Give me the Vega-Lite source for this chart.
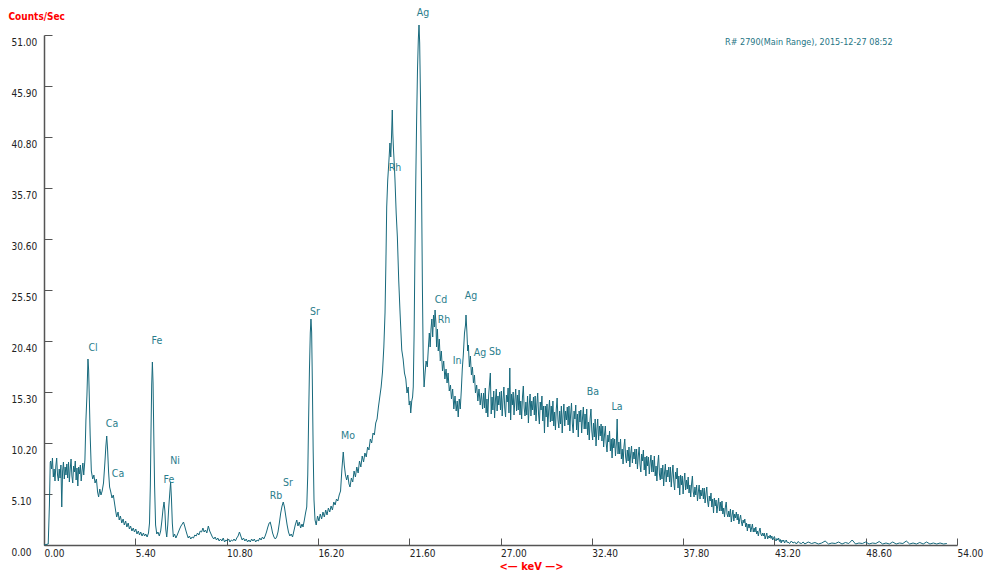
{
"$schema": "https://vega.github.io/schema/vega-lite/v6.json",
"width": 913, "height": 510,
"autosize": {"type": "none"},
"padding": {"left": 44, "top": 35, "right": 27, "bottom": 29},
"background": "white",
"config": {"view": {"stroke": null}, "font": "Liberation Sans Narrow, DejaVu Sans Condensed, Liberation Sans, Arial, sans-serif"},
"datasets": {
"spectrum": [
{"keV":0,"cps":0},{"keV":0.25,"cps":0.1},{"keV":0.32,"cps":4.0},{"keV":0.37,"cps":8.3},
{"keV":0.40,"cps":8.4},{"keV":0.45,"cps":7.6},{"keV":0.50,"cps":8.7},{"keV":0.55,"cps":6.8},{"keV":0.60,"cps":7.6},{"keV":0.65,"cps":6.4},{"keV":0.70,"cps":7.9},{"keV":0.75,"cps":8.7},{"keV":0.80,"cps":7.0},{"keV":0.85,"cps":6.4},{"keV":0.90,"cps":7.6},{"keV":0.95,"cps":6.7},{"keV":1.00,"cps":8.0},{"keV":1.05,"cps":3.8},{"keV":1.10,"cps":7.4},{"keV":1.15,"cps":8.3},{"keV":1.20,"cps":6.6},{"keV":1.25,"cps":7.8},{"keV":1.30,"cps":7.0},{"keV":1.35,"cps":8.1},{"keV":1.40,"cps":6.7},{"keV":1.45,"cps":8.3},{"keV":1.50,"cps":6.3},{"keV":1.55,"cps":7.6},{"keV":1.60,"cps":8.6},{"keV":1.65,"cps":6.9},{"keV":1.70,"cps":6.2},{"keV":1.75,"cps":7.9},{"keV":1.80,"cps":7.3},{"keV":1.85,"cps":8.4},{"keV":1.90,"cps":6.5},{"keV":1.95,"cps":7.7},{"keV":2.00,"cps":5.9},{"keV":2.05,"cps":7.8},{"keV":2.10,"cps":7.1},{"keV":2.15,"cps":8.0},{"keV":2.20,"cps":6.4},{"keV":2.25,"cps":7.4},{"keV":2.30,"cps":8.2},{"keV":2.35,"cps":7.0},{"keV":2.42,"cps":8.5},
{"keV":2.48,"cps":12.5},{"keV":2.54,"cps":15.0},{"keV":2.6,"cps":18.6},{"keV":2.64,"cps":17.5},{"keV":2.68,"cps":14.8},{"keV":2.73,"cps":11.0},{"keV":2.8,"cps":7.4},{"keV":2.88,"cps":6.6},{"keV":2.95,"cps":7.0},{"keV":3.02,"cps":6.2},{"keV":3.1,"cps":6.6},{"keV":3.17,"cps":5.3},{"keV":3.23,"cps":4.8},{"keV":3.3,"cps":5.6},{"keV":3.37,"cps":5.0},{"keV":3.44,"cps":5.4},{"keV":3.52,"cps":6.2},{"keV":3.6,"cps":8.2},{"keV":3.66,"cps":9.9},{"keV":3.71,"cps":10.9},{"keV":3.76,"cps":9.6},{"keV":3.82,"cps":7.3},{"keV":3.88,"cps":5.8},{"keV":3.95,"cps":5.3},{"keV":4.02,"cps":4.7},{"keV":4.1,"cps":5.0},{"keV":4.17,"cps":4.2},{"keV":4.24,"cps":3.4},{"keV":4.3,"cps":2.8},{"keV":4.38,"cps":3.3},{"keV":4.45,"cps":2.5},{"keV":4.52,"cps":2.9},{"keV":4.6,"cps":2.2},{"keV":4.68,"cps":2.6},{"keV":4.75,"cps":2.0},{"keV":4.83,"cps":2.4},{"keV":4.9,"cps":1.8},{"keV":4.98,"cps":2.2},{"keV":5.05,"cps":1.6},{"keV":5.12,"cps":1.9},{"keV":5.2,"cps":1.4},{"keV":5.28,"cps":1.7},{"keV":5.35,"cps":1.3},{"keV":5.43,"cps":1.6},{"keV":5.5,"cps":1.1},{"keV":5.58,"cps":1.4},{"keV":5.65,"cps":1.0},{"keV":5.72,"cps":1.3},{"keV":5.8,"cps":0.9},{"keV":5.88,"cps":1.2},{"keV":5.95,"cps":0.9},{"keV":6.02,"cps":1.1},{"keV":6.1,"cps":0.8},{"keV":6.18,"cps":1.2},{"keV":6.24,"cps":2.2},{"keV":6.29,"cps":6.0},{"keV":6.33,"cps":11.5},{"keV":6.37,"cps":16.0},{"keV":6.41,"cps":18.3},{"keV":6.45,"cps":16.2},{"keV":6.49,"cps":11.5},{"keV":6.54,"cps":6.0},{"keV":6.6,"cps":2.0},{"keV":6.67,"cps":1.1},{"keV":6.74,"cps":1.3},{"keV":6.82,"cps":0.9},{"keV":6.9,"cps":1.4},{"keV":6.97,"cps":2.4},{"keV":7.04,"cps":3.6},{"keV":7.1,"cps":4.3},{"keV":7.15,"cps":3.4},{"keV":7.2,"cps":1.6},{"keV":7.26,"cps":0.8},{"keV":7.32,"cps":2.0},{"keV":7.38,"cps":3.8},{"keV":7.44,"cps":5.2},{"keV":7.49,"cps":6.3},{"keV":7.54,"cps":4.6},{"keV":7.59,"cps":2.2},{"keV":7.65,"cps":0.8},{"keV":7.72,"cps":1.1},{"keV":7.8,"cps":0.7},{"keV":7.88,"cps":1.0},{"keV":7.95,"cps":1.3},{"keV":8.02,"cps":1.6},{"keV":8.1,"cps":1.9},{"keV":8.18,"cps":2.1},{"keV":8.25,"cps":2.3},{"keV":8.32,"cps":1.9},{"keV":8.4,"cps":1.4},{"keV":8.47,"cps":1.0},{"keV":8.53,"cps":0.7},{"keV":8.6,"cps":0.9},{"keV":8.68,"cps":0.6},{"keV":8.76,"cps":0.8},{"keV":8.84,"cps":0.7},{"keV":8.92,"cps":1.0},{"keV":9.0,"cps":0.9},{"keV":9.08,"cps":1.2},{"keV":9.16,"cps":1.0},{"keV":9.24,"cps":1.4},{"keV":9.32,"cps":1.3},{"keV":9.4,"cps":1.7},{"keV":9.47,"cps":1.3},{"keV":9.55,"cps":1.5},{"keV":9.63,"cps":1.2},{"keV":9.72,"cps":1.9},{"keV":9.8,"cps":1.4},{"keV":9.88,"cps":1.1},{"keV":9.96,"cps":0.8},{"keV":10.04,"cps":0.6},{"keV":10.12,"cps":0.8},{"keV":10.2,"cps":0.5},{"keV":10.28,"cps":0.7},{"keV":10.36,"cps":0.4},{"keV":10.44,"cps":0.6},{"keV":10.52,"cps":0.4},{"keV":10.6,"cps":0.7},{"keV":10.68,"cps":0.3},{"keV":10.76,"cps":0.5},{"keV":10.84,"cps":0.4},{"keV":10.92,"cps":0.6},{"keV":11.0,"cps":0.3},{"keV":11.08,"cps":0.5},{"keV":11.16,"cps":0.4},{"keV":11.24,"cps":0.6},{"keV":11.32,"cps":0.4},{"keV":11.4,"cps":0.7},{"keV":11.48,"cps":0.9},{"keV":11.56,"cps":1.3},{"keV":11.64,"cps":0.9},{"keV":11.72,"cps":0.5},{"keV":11.8,"cps":0.7},{"keV":11.88,"cps":0.4},{"keV":11.96,"cps":0.6},{"keV":12.04,"cps":0.3},{"keV":12.12,"cps":0.5},{"keV":12.2,"cps":0.3},{"keV":12.28,"cps":0.6},{"keV":12.36,"cps":0.4},{"keV":12.44,"cps":0.6},{"keV":12.52,"cps":0.3},{"keV":12.6,"cps":0.5},{"keV":12.68,"cps":0.4},{"keV":12.76,"cps":0.7},{"keV":12.84,"cps":0.5},{"keV":12.92,"cps":0.8},{"keV":13.0,"cps":0.6},{"keV":13.08,"cps":0.9},{"keV":13.16,"cps":1.3},{"keV":13.24,"cps":1.8},{"keV":13.32,"cps":2.2},{"keV":13.38,"cps":2.3},{"keV":13.45,"cps":1.8},{"keV":13.52,"cps":1.2},{"keV":13.6,"cps":0.8},{"keV":13.68,"cps":0.6},{"keV":13.76,"cps":0.8},{"keV":13.84,"cps":1.3},{"keV":13.92,"cps":2.2},{"keV":14.0,"cps":3.2},{"keV":14.08,"cps":3.9},{"keV":14.15,"cps":4.3},{"keV":14.22,"cps":3.8},{"keV":14.3,"cps":2.9},{"keV":14.38,"cps":2.0},{"keV":14.46,"cps":1.3},{"keV":14.54,"cps":0.9},{"keV":14.62,"cps":1.1},{"keV":14.7,"cps":0.8},{"keV":14.78,"cps":1.4},{"keV":14.86,"cps":2.0},{"keV":14.95,"cps":2.5},{"keV":15.02,"cps":1.9},{"keV":15.1,"cps":2.3},{"keV":15.18,"cps":1.7},{"keV":15.26,"cps":2.1},{"keV":15.32,"cps":1.8},{"keV":15.4,"cps":2.5},{"keV":15.47,"cps":3.2},{"keV":15.54,"cps":3.8},{"keV":15.6,"cps":7.0},{"keV":15.65,"cps":12.5},{"keV":15.7,"cps":17.5},{"keV":15.75,"cps":21.2},{"keV":15.79,"cps":22.6},{"keV":15.83,"cps":21.3},{"keV":15.87,"cps":16.5},{"keV":15.92,"cps":9.5},{"keV":15.97,"cps":4.5},{"keV":16.03,"cps":2.5},{"keV":16.1,"cps":2.0},{"keV":16.18,"cps":2.9},{"keV":16.26,"cps":2.4},{"keV":16.34,"cps":3.1},{"keV":16.42,"cps":2.6},{"keV":16.5,"cps":3.3},{"keV":16.58,"cps":2.8},{"keV":16.66,"cps":3.5},{"keV":16.74,"cps":3.0},{"keV":16.82,"cps":3.7},{"keV":16.9,"cps":3.3},{"keV":16.98,"cps":3.9},{"keV":17.06,"cps":3.5},{"keV":17.14,"cps":4.3},{"keV":17.22,"cps":4.0},{"keV":17.3,"cps":4.6},{"keV":17.38,"cps":4.4},{"keV":17.46,"cps":5.0},{"keV":17.54,"cps":5.4},{"keV":17.62,"cps":7.6},{"keV":17.7,"cps":9.3},{"keV":17.76,"cps":8.0},{"keV":17.83,"cps":7.0},{"keV":17.9,"cps":6.5},{"keV":17.97,"cps":7.0},{"keV":18.04,"cps":6.1},{"keV":18.1,"cps":5.8},{"keV":18.18,"cps":6.7},{"keV":18.26,"cps":6.3},{"keV":18.34,"cps":7.4},{"keV":18.42,"cps":6.8},{"keV":18.5,"cps":7.8},{"keV":18.58,"cps":7.2},{"keV":18.66,"cps":8.4},{"keV":18.74,"cps":7.8},{"keV":18.82,"cps":8.9},{"keV":18.9,"cps":8.3},{"keV":18.98,"cps":9.2},{"keV":19.06,"cps":8.8},{"keV":19.14,"cps":9.8},{"keV":19.22,"cps":9.5},{"keV":19.3,"cps":10.6},{"keV":19.38,"cps":10.2},{"keV":19.46,"cps":11.2},{"keV":19.54,"cps":11.0},{"keV":19.62,"cps":12.2},{"keV":19.7,"cps":12.6},{"keV":19.78,"cps":13.8},{"keV":19.86,"cps":14.8},{"keV":19.94,"cps":15.8},{"keV":20.02,"cps":17.3},{"keV":20.1,"cps":19.8},{"keV":20.17,"cps":23.2},{"keV":20.22,"cps":28.0},{"keV":20.27,"cps":33.8},{"keV":20.33,"cps":36.5},{"keV":20.4,"cps":38.4},{"keV":20.46,"cps":40.2},{"keV":20.51,"cps":38.8},{"keV":20.55,"cps":40.6},{"keV":20.6,"cps":43.5},{"keV":20.63,"cps":41.2},{"keV":20.67,"cps":39.6},{"keV":20.72,"cps":38.0},{"keV":20.76,"cps":36.5},{"keV":20.83,"cps":33.2},{"keV":20.9,"cps":30.8},{"keV":20.98,"cps":26.5},{"keV":21.06,"cps":23.2},{"keV":21.16,"cps":19.5},{"keV":21.24,"cps":18.6},{"keV":21.32,"cps":17.2},{"keV":21.4,"cps":16.6},{"keV":21.47,"cps":15.2},{"keV":21.54,"cps":15.8},{"keV":21.6,"cps":14.0},{"keV":21.65,"cps":14.4},{"keV":21.69,"cps":13.2},{"keV":21.75,"cps":14.4},{"keV":21.8,"cps":14.8},{"keV":21.84,"cps":15.8},{"keV":21.89,"cps":21.0},{"keV":21.94,"cps":29.2},{"keV":21.99,"cps":36.5},{"keV":22.04,"cps":42.5},{"keV":22.09,"cps":47.5},{"keV":22.14,"cps":50.6},{"keV":22.18,"cps":52.0},{"keV":22.22,"cps":50.2},{"keV":22.27,"cps":44.5},{"keV":22.33,"cps":36.0},{"keV":22.38,"cps":26.0},{"keV":22.43,"cps":18.5},{"keV":22.48,"cps":15.8},{"keV":22.54,"cps":17.2},{"keV":22.6,"cps":18.4},{"keV":22.67,"cps":17.8},{"keV":22.73,"cps":19.6},{"keV":22.79,"cps":21.2},{"keV":22.84,"cps":19.8},{"keV":22.89,"cps":21.6},{"keV":22.94,"cps":22.6},{"keV":22.99,"cps":20.8},{"keV":23.04,"cps":23.0},{"keV":23.09,"cps":21.8},{"keV":23.13,"cps":23.5},{"keV":23.18,"cps":22.2},{"keV":23.22,"cps":19.8},{"keV":23.27,"cps":21.6},{"keV":23.32,"cps":19.4},{"keV":23.38,"cps":20.6},{"keV":23.44,"cps":18.4},{"keV":23.5,"cps":19.4},{"keV":23.57,"cps":17.4},{"keV":23.64,"cps":18.4},{"keV":23.71,"cps":16.6},{"keV":23.78,"cps":17.6},{"keV":23.84,"cps":16.2},{"keV":23.9,"cps":17.2},{"keV":23.97,"cps":15.4},{"keV":24.04,"cps":16.0},{"keV":24.1,"cps":14.6},{"keV":24.17,"cps":15.6},{"keV":24.24,"cps":13.6},{"keV":24.31,"cps":14.9},{"keV":24.38,"cps":13.4},{"keV":24.44,"cps":14.4},{"keV":24.5,"cps":12.8},{"keV":24.56,"cps":14.6},{"keV":24.62,"cps":13.6},{"keV":24.68,"cps":15.4},{"keV":24.74,"cps":17.6},{"keV":24.8,"cps":19.0},{"keV":24.87,"cps":21.2},{"keV":24.93,"cps":22.0},{"keV":24.96,"cps":23.0},{"keV":25.01,"cps":21.4},{"keV":25.06,"cps":19.4},{"keV":25.1,"cps":20.0},{"keV":25.16,"cps":17.8},{"keV":25.22,"cps":18.9},{"keV":25.28,"cps":17.0},{"keV":25.34,"cps":17.8},{"keV":25.4,"cps":16.2},{"keV":25.46,"cps":17.0},{"keV":25.52,"cps":15.2},{"keV":25.59,"cps":16.0},{"keV":25.66,"cps":14.4},{"keV":25.73,"cps":15.6},{"keV":25.8,"cps":14.0},{"keV":25.87,"cps":15.2},{"keV":25.94,"cps":13.6},
{"keV":26.00,"cps":15.2},{"keV":26.05,"cps":13.7},{"keV":26.10,"cps":15.7},{"keV":26.15,"cps":13.2},{"keV":26.20,"cps":14.6},{"keV":26.25,"cps":12.8},{"keV":26.30,"cps":15.0},{"keV":26.35,"cps":16.1},{"keV":26.40,"cps":17.2},{"keV":26.45,"cps":13.1},{"keV":26.50,"cps":14.8},{"keV":26.55,"cps":13.5},{"keV":26.60,"cps":15.4},{"keV":26.65,"cps":12.7},{"keV":26.70,"cps":14.5},{"keV":26.75,"cps":15.6},{"keV":26.80,"cps":13.4},{"keV":26.85,"cps":14.9},{"keV":26.90,"cps":14.0},{"keV":26.95,"cps":15.3},
{"keV":27.00,"cps":13.5},{"keV":27.05,"cps":15.4},{"keV":27.10,"cps":12.9},{"keV":27.15,"cps":14.6},{"keV":27.20,"cps":15.8},{"keV":27.25,"cps":13.7},{"keV":27.30,"cps":12.8},{"keV":27.35,"cps":15.0},{"keV":27.40,"cps":14.3},{"keV":27.45,"cps":15.7},{"keV":27.50,"cps":13.2},{"keV":27.55,"cps":17.7},{"keV":27.60,"cps":12.5},{"keV":27.65,"cps":15.1},{"keV":27.70,"cps":14.0},{"keV":27.75,"cps":15.3},{"keV":27.80,"cps":13.0},{"keV":27.85,"cps":14.5},{"keV":27.90,"cps":15.6},{"keV":27.95,"cps":13.4},
{"keV":28.00,"cps":15.0},{"keV":28.05,"cps":13.5},{"keV":28.10,"cps":15.5},{"keV":28.15,"cps":13.0},{"keV":28.20,"cps":14.4},{"keV":28.25,"cps":12.6},{"keV":28.30,"cps":14.8},{"keV":28.35,"cps":15.9},{"keV":28.40,"cps":13.7},{"keV":28.45,"cps":12.9},{"keV":28.50,"cps":14.3},{"keV":28.55,"cps":13.0},{"keV":28.60,"cps":14.9},{"keV":28.65,"cps":12.2},{"keV":28.70,"cps":14.0},{"keV":28.75,"cps":15.1},{"keV":28.80,"cps":12.9},{"keV":28.85,"cps":14.4},{"keV":28.90,"cps":13.5},{"keV":28.95,"cps":14.8},
{"keV":29.00,"cps":13.0},{"keV":29.05,"cps":14.9},{"keV":29.10,"cps":12.4},{"keV":29.15,"cps":14.1},{"keV":29.20,"cps":15.2},{"keV":29.25,"cps":13.1},{"keV":29.30,"cps":12.1},{"keV":29.35,"cps":14.3},{"keV":29.40,"cps":13.5},{"keV":29.45,"cps":14.9},{"keV":29.50,"cps":12.4},{"keV":29.55,"cps":13.9},{"keV":29.60,"cps":11.2},{"keV":29.65,"cps":13.9},{"keV":29.70,"cps":12.8},{"keV":29.75,"cps":14.1},{"keV":29.80,"cps":11.8},{"keV":29.85,"cps":13.4},{"keV":29.90,"cps":14.5},{"keV":29.95,"cps":12.3},
{"keV":30.00,"cps":13.9},{"keV":30.05,"cps":12.4},{"keV":30.10,"cps":14.4},{"keV":30.15,"cps":11.9},{"keV":30.20,"cps":13.3},{"keV":30.25,"cps":11.5},{"keV":30.30,"cps":13.6},{"keV":30.35,"cps":14.7},{"keV":30.40,"cps":12.5},{"keV":30.45,"cps":11.7},{"keV":30.50,"cps":13.4},{"keV":30.55,"cps":12.1},{"keV":30.60,"cps":13.9},{"keV":30.65,"cps":11.2},{"keV":30.70,"cps":13.0},{"keV":30.75,"cps":14.1},{"keV":30.80,"cps":11.9},{"keV":30.85,"cps":13.4},{"keV":30.90,"cps":12.5},{"keV":30.95,"cps":13.8},
{"keV":31.00,"cps":12.0},{"keV":31.05,"cps":13.9},{"keV":31.10,"cps":11.4},{"keV":31.15,"cps":13.1},{"keV":31.20,"cps":14.2},{"keV":31.25,"cps":12.1},{"keV":31.30,"cps":11.2},{"keV":31.35,"cps":13.4},{"keV":31.40,"cps":12.6},{"keV":31.45,"cps":14.0},{"keV":31.50,"cps":11.5},{"keV":31.55,"cps":13.1},{"keV":31.60,"cps":10.8},{"keV":31.65,"cps":13.4},{"keV":31.70,"cps":12.3},{"keV":31.75,"cps":13.5},{"keV":31.80,"cps":11.2},{"keV":31.85,"cps":12.7},{"keV":31.90,"cps":13.8},{"keV":31.95,"cps":11.6},
{"keV":32.00,"cps":13.1},{"keV":32.05,"cps":11.6},{"keV":32.10,"cps":13.6},{"keV":32.15,"cps":11.0},{"keV":32.20,"cps":12.3},{"keV":32.25,"cps":10.5},{"keV":32.30,"cps":12.6},{"keV":32.35,"cps":13.6},{"keV":32.40,"cps":11.4},{"keV":32.45,"cps":10.5},{"keV":32.50,"cps":12.2},{"keV":32.55,"cps":10.8},{"keV":32.60,"cps":12.6},{"keV":32.65,"cps":9.9},{"keV":32.70,"cps":11.6},{"keV":32.75,"cps":12.6},{"keV":32.80,"cps":10.5},{"keV":32.85,"cps":11.9},{"keV":32.90,"cps":10.9},{"keV":32.95,"cps":12.1},
{"keV":33.00,"cps":10.4},{"keV":33.05,"cps":11.9},{"keV":33.10,"cps":9.8},{"keV":33.15,"cps":11.0},{"keV":33.20,"cps":11.9},{"keV":33.25,"cps":10.2},{"keV":33.30,"cps":9.3},{"keV":33.35,"cps":11.0},{"keV":33.40,"cps":10.3},{"keV":33.45,"cps":11.4},{"keV":33.50,"cps":9.4},{"keV":33.55,"cps":10.6},{"keV":33.60,"cps":8.7},{"keV":33.65,"cps":10.7},{"keV":33.70,"cps":9.7},{"keV":33.75,"cps":10.6},{"keV":33.80,"cps":8.9},{"keV":33.85,"cps":10.1},{"keV":33.90,"cps":12.6},{"keV":33.95,"cps":9.1},
{"keV":34.00,"cps":10.3},{"keV":34.05,"cps":9.1},{"keV":34.10,"cps":10.6},{"keV":34.15,"cps":8.6},{"keV":34.20,"cps":9.6},{"keV":34.25,"cps":8.1},{"keV":34.30,"cps":9.8},{"keV":34.35,"cps":10.6},{"keV":34.40,"cps":8.8},{"keV":34.45,"cps":8.2},{"keV":34.50,"cps":9.5},{"keV":34.55,"cps":8.4},{"keV":34.60,"cps":9.8},{"keV":34.65,"cps":7.8},{"keV":34.70,"cps":9.1},{"keV":34.75,"cps":9.9},{"keV":34.80,"cps":8.2},{"keV":34.85,"cps":9.3},{"keV":34.90,"cps":8.6},{"keV":34.95,"cps":9.6},
{"keV":35.00,"cps":8.1},{"keV":35.05,"cps":9.6},{"keV":35.10,"cps":7.6},{"keV":35.15,"cps":8.9},{"keV":35.20,"cps":9.8},{"keV":35.25,"cps":8.1},{"keV":35.30,"cps":7.3},{"keV":35.35,"cps":9.1},{"keV":35.40,"cps":8.4},{"keV":35.45,"cps":9.5},{"keV":35.50,"cps":7.5},{"keV":35.55,"cps":8.8},{"keV":35.60,"cps":6.9},{"keV":35.65,"cps":8.9},{"keV":35.70,"cps":7.9},{"keV":35.75,"cps":8.8},{"keV":35.80,"cps":7.1},{"keV":35.85,"cps":8.2},{"keV":35.90,"cps":9.0},{"keV":35.95,"cps":7.3},
{"keV":36.00,"cps":8.5},{"keV":36.05,"cps":7.3},{"keV":36.10,"cps":8.9},{"keV":36.15,"cps":6.9},{"keV":36.20,"cps":7.9},{"keV":36.25,"cps":6.4},{"keV":36.30,"cps":8.1},{"keV":36.35,"cps":9.0},{"keV":36.40,"cps":7.1},{"keV":36.45,"cps":6.5},{"keV":36.50,"cps":7.7},{"keV":36.55,"cps":6.6},{"keV":36.60,"cps":8.0},{"keV":36.65,"cps":5.9},{"keV":36.70,"cps":7.2},{"keV":36.75,"cps":8.1},{"keV":36.80,"cps":6.3},{"keV":36.85,"cps":7.5},{"keV":36.90,"cps":6.8},{"keV":36.95,"cps":7.8},
{"keV":37.00,"cps":6.3},{"keV":37.05,"cps":7.8},{"keV":37.10,"cps":5.8},{"keV":37.15,"cps":7.1},{"keV":37.20,"cps":8.0},{"keV":37.25,"cps":6.3},{"keV":37.30,"cps":5.5},{"keV":37.35,"cps":7.3},{"keV":37.40,"cps":6.6},{"keV":37.45,"cps":7.7},{"keV":37.50,"cps":5.7},{"keV":37.55,"cps":6.9},{"keV":37.60,"cps":5.0},{"keV":37.65,"cps":7.0},{"keV":37.70,"cps":6.0},{"keV":37.75,"cps":6.9},{"keV":37.80,"cps":5.1},{"keV":37.85,"cps":6.3},{"keV":37.90,"cps":7.2},{"keV":37.95,"cps":5.5},
{"keV":38.00,"cps":6.5},{"keV":38.05,"cps":5.6},{"keV":38.10,"cps":6.8},{"keV":38.15,"cps":5.2},{"keV":38.20,"cps":6.0},{"keV":38.25,"cps":4.8},{"keV":38.30,"cps":6.1},{"keV":38.35,"cps":6.9},{"keV":38.40,"cps":5.3},{"keV":38.45,"cps":4.8},{"keV":38.50,"cps":5.8},{"keV":38.55,"cps":5.0},{"keV":38.60,"cps":6.0},{"keV":38.65,"cps":4.4},{"keV":38.70,"cps":5.3},{"keV":38.75,"cps":6.0},{"keV":38.80,"cps":4.6},{"keV":38.85,"cps":5.5},{"keV":38.90,"cps":4.9},{"keV":38.95,"cps":5.7},
{"keV":39.00,"cps":4.6},{"keV":39.05,"cps":5.7},{"keV":39.10,"cps":4.2},{"keV":39.15,"cps":5.1},{"keV":39.20,"cps":5.8},{"keV":39.25,"cps":4.4},{"keV":39.30,"cps":3.8},{"keV":39.35,"cps":4.9},{"keV":39.40,"cps":4.4},{"keV":39.45,"cps":5.2},{"keV":39.50,"cps":3.8},{"keV":39.55,"cps":4.6},{"keV":39.60,"cps":3.2},{"keV":39.65,"cps":4.7},{"keV":39.70,"cps":3.9},{"keV":39.75,"cps":4.5},{"keV":39.80,"cps":3.2},{"keV":39.85,"cps":4.0},{"keV":39.90,"cps":4.7},{"keV":39.95,"cps":3.4},
{"keV":40.00,"cps":4.3},{"keV":40.05,"cps":3.4},{"keV":40.10,"cps":4.4},{"keV":40.15,"cps":3.1},{"keV":40.20,"cps":3.7},{"keV":40.25,"cps":2.8},{"keV":40.30,"cps":3.8},{"keV":40.35,"cps":4.3},{"keV":40.40,"cps":3.1},{"keV":40.45,"cps":2.8},{"keV":40.50,"cps":3.4},{"keV":40.55,"cps":2.8},{"keV":40.60,"cps":3.6},{"keV":40.65,"cps":2.3},{"keV":40.70,"cps":3.0},{"keV":40.75,"cps":3.5},{"keV":40.80,"cps":2.4},{"keV":40.85,"cps":3.1},{"keV":40.90,"cps":2.7},{"keV":40.95,"cps":3.3},
{"keV":41.00,"cps":2.5},{"keV":41.05,"cps":3.1},{"keV":41.10,"cps":2.1},{"keV":41.15,"cps":2.6},{"keV":41.20,"cps":3.0},{"keV":41.25,"cps":2.3},{"keV":41.30,"cps":1.9},{"keV":41.35,"cps":2.5},{"keV":41.40,"cps":2.2},{"keV":41.45,"cps":2.6},{"keV":41.50,"cps":1.8},{"keV":41.55,"cps":2.2},{"keV":41.60,"cps":1.4},{"keV":41.65,"cps":2.1},{"keV":41.70,"cps":1.7},{"keV":41.75,"cps":2.1},{"keV":41.80,"cps":1.3},{"keV":41.85,"cps":1.7},{"keV":41.90,"cps":2.1},{"keV":41.95,"cps":1.3},
{"keV":42.00,"cps":1.7},{"keV":42.05,"cps":1.3},{"keV":42.10,"cps":1.8},{"keV":42.15,"cps":1.1},{"keV":42.20,"cps":1.4},{"keV":42.25,"cps":0.9},{"keV":42.30,"cps":1.4},{"keV":42.35,"cps":1.7},{"keV":42.40,"cps":1.1},{"keV":42.45,"cps":0.9},{"keV":42.50,"cps":1.2},{"keV":42.55,"cps":0.9},{"keV":42.60,"cps":1.2},{"keV":42.65,"cps":0.6},{"keV":42.70,"cps":0.9},{"keV":42.75,"cps":1.2},{"keV":42.80,"cps":0.6},{"keV":42.85,"cps":0.9},{"keV":42.90,"cps":0.7},{"keV":42.95,"cps":1.0},
{"keV":43.00,"cps":0.65},{"keV":43.05,"cps":0.9},{"keV":43.10,"cps":0.5},{"keV":43.15,"cps":0.7},{"keV":43.20,"cps":0.85},{"keV":43.25,"cps":0.55},{"keV":43.30,"cps":0.4},{"keV":43.35,"cps":0.65},{"keV":43.40,"cps":0.5},{"keV":43.45,"cps":0.7},{"keV":43.50,"cps":0.35},{"keV":43.55,"cps":0.55},{"keV":43.60,"cps":0.2},{"keV":43.65,"cps":0.5},{"keV":43.70,"cps":0.35},{"keV":43.75,"cps":0.5},{"keV":43.80,"cps":0.2},{"keV":43.85,"cps":0.35},{"keV":43.90,"cps":0.5},{"keV":43.95,"cps":0.25},
{"keV":44.0,"cps":0.3},{"keV":44.1,"cps":0.15},{"keV":44.2,"cps":0.4},{"keV":44.3,"cps":0.2},{"keV":44.4,"cps":0.3},{"keV":44.5,"cps":0.1},{"keV":44.6,"cps":0.35},{"keV":44.7,"cps":0.2},{"keV":44.8,"cps":0.15},{"keV":44.9,"cps":0.3},{"keV":45.0,"cps":0.1},{"keV":45.2,"cps":0.3},{"keV":45.4,"cps":0.15},{"keV":45.6,"cps":0.25},{"keV":45.8,"cps":0.1},{"keV":46.0,"cps":0.2},{"keV":46.2,"cps":0.4},{"keV":46.4,"cps":0.1},{"keV":46.6,"cps":0.2},{"keV":46.8,"cps":0.15},{"keV":47.0,"cps":0.3},{"keV":47.2,"cps":0.1},{"keV":47.4,"cps":0.25},{"keV":47.6,"cps":0.15},{"keV":47.8,"cps":0.5},{"keV":48.0,"cps":0.1},{"keV":48.2,"cps":0.2},{"keV":48.4,"cps":0.15},{"keV":48.6,"cps":0.3},{"keV":48.8,"cps":0.1},{"keV":49.0,"cps":0.2},{"keV":49.2,"cps":0.15},{"keV":49.4,"cps":0.35},{"keV":49.6,"cps":0.1},{"keV":49.8,"cps":0.2},{"keV":50.0,"cps":0.1},{"keV":50.2,"cps":0.3},{"keV":50.4,"cps":0.1},{"keV":50.6,"cps":0.2},{"keV":50.8,"cps":0.15},{"keV":51.0,"cps":0.4},{"keV":51.2,"cps":0.1},{"keV":51.4,"cps":0.2},{"keV":51.6,"cps":0.1},{"keV":51.8,"cps":0.25},{"keV":52.0,"cps":0.1},{"keV":52.2,"cps":0.3},{"keV":52.4,"cps":0.1},{"keV":52.6,"cps":0.2},{"keV":52.8,"cps":0.1},{"keV":53.0,"cps":0.2},{"keV":53.2,"cps":0.1},{"keV":53.4,"cps":0.15}
],
"labels": [
{"label":"Cl","keV":2.9,"cps":19.7},
{"label":"Ca","keV":4.02,"cps":12.1},
{"label":"Ca","keV":4.38,"cps":7.1},
{"label":"Fe","keV":6.68,"cps":20.4},
{"label":"Ni","keV":7.75,"cps":8.4},
{"label":"Fe","keV":7.39,"cps":6.5},
{"label":"Rb","keV":13.72,"cps":4.9},
{"label":"Sr","keV":14.43,"cps":6.2},
{"label":"Sr","keV":16.03,"cps":23.3},
{"label":"Mo","keV":17.98,"cps":10.9},
{"label":"Rh","keV":20.76,"cps":37.7},
{"label":"Ag","keV":22.42,"cps":53.2},
{"label":"Cd","keV":23.48,"cps":24.5},
{"label":"Rh","keV":23.66,"cps":22.5},
{"label":"Ag","keV":25.26,"cps":24.9},
{"label":"In","keV":24.43,"cps":18.4},
{"label":"Ag","keV":25.79,"cps":19.2},
{"label":"Sb","keV":26.68,"cps":19.3},
{"label":"Ba","keV":32.47,"cps":15.3},
{"label":"La","keV":33.89,"cps":13.8}
]
},
"layer": [
{
"data": {"name": "spectrum"},
"mark": {"type": "line", "color": "#17697c", "strokeWidth": 1},
"encoding": {
"x": {"field": "keV", "type": "quantitative",
"scale": {"domain": [0, 54], "nice": false, "zero": false},
"axis": {"values": [0, 5.4, 10.8, 16.2, 21.6, 27, 32.4, 37.8, 43.2, 48.6, 54], "format": ".2f", "grid": false,
"tickSize": -7, "tickColor": "#555555", "domainColor": "#555555", "domainWidth": 1.5, "tickWidth": 1,
"labelAlign": "left", "labelBaseline": "top", "labelPadding": 10, "labelFlush": false, "labelOverlap": false,
"labelFontSize": 10, "labelColor": "#222222",
"title": "<— keV —>", "titleColor": "#ff0000", "titleFontWeight": "bold", "titleFontSize": 11,
"titleX": 487, "titleY": 21, "titleAlign": "center", "titleBaseline": "middle", "titleAngle": 0}},
"y": {"field": "cps", "type": "quantitative",
"scale": {"domain": [0, 51], "nice": false, "zero": true},
"axis": {"values": [0, 5.1, 10.2, 15.3, 20.4, 25.5, 30.6, 35.7, 40.8, 45.9, 51], "format": ".2f", "grid": false,
"tickSize": -8, "tickColor": "#555555", "domainColor": "#555555", "domainWidth": 1.5, "tickWidth": 1,
"labelAlign": "left", "labelBaseline": "top", "labelPadding": 41, "labelOffset": 2, "labelFlush": false, "labelOverlap": false,
"labelFontSize": 10, "labelColor": "#222222",
"title": "Counts/Sec", "titleColor": "#ff0000", "titleFontWeight": "bold", "titleFontSize": 10,
"titleX": -36, "titleY": -19, "titleAlign": "left", "titleBaseline": "middle", "titleAngle": 0}}
}
},
{
"data": {"name": "labels"},
"mark": {"type": "text", "color": "#2a7d8c", "fontSize": 10.5, "align": "center", "baseline": "middle"},
"encoding": {
"x": {"field": "keV", "type": "quantitative"},
"y": {"field": "cps", "type": "quantitative"},
"text": {"field": "label"}
}
},
{
"data": {"values": [{"note": "R# 2790(Main Range), 2015-12-27 08:52"}]},
"mark": {"type": "text", "color": "#1f7585", "fontSize": 9, "align": "left", "baseline": "middle"},
"encoding": {
"x": {"datum": 40.28, "type": "quantitative"},
"y": {"datum": 50.3, "type": "quantitative"},
"text": {"field": "note"}
}
}
]
}
